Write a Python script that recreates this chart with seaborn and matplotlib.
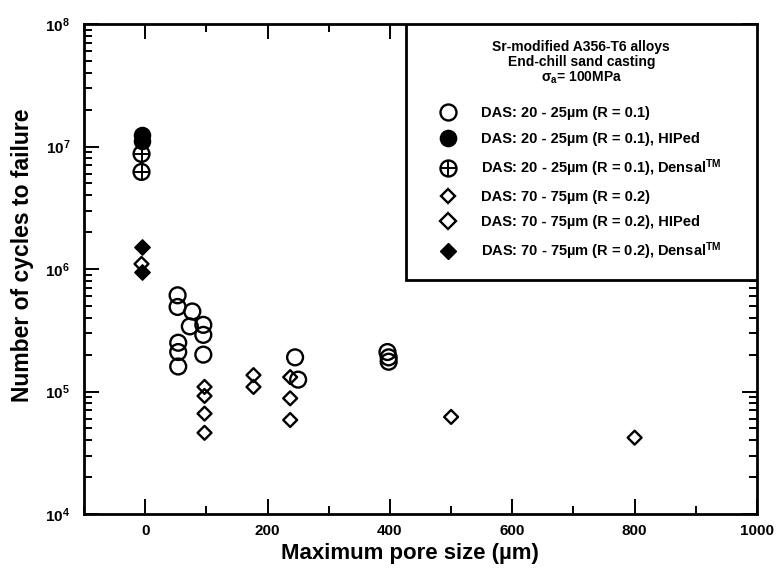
import matplotlib
matplotlib.use("Agg")
import matplotlib.pyplot as plt
import pandas as pd
import seaborn as sns
from matplotlib.lines import Line2D
from matplotlib.patches import Rectangle
from matplotlib.legend_handler import HandlerTuple
from matplotlib.ticker import LogLocator, MultipleLocator, NullFormatter

# DAS 20-25 um, R = 0.1 (as cast)
pore_fine = [53, 53, 77, 73, 95, 95, 54, 54, 95, 54, 245, 250, 396, 398, 398]
cycles_fine = [6.1e5, 4.9e5, 4.5e5, 3.4e5, 3.5e5, 2.9e5, 2.5e5, 2.1e5, 2.0e5,
               1.6e5, 1.9e5, 1.25e5, 2.1e5, 1.9e5, 1.75e5]
# DAS 20-25 um, R = 0.1, HIPed
pore_fine_hip = [-6, -6]
cycles_fine_hip = [1.25e7, 1.1e7]
# DAS 20-25 um, R = 0.1, Densal
pore_fine_densal = [-6, -6]
cycles_fine_densal = [8.7e6, 6.2e6]
# DAS 70-75 um, R = 0.2 (as cast)
pore_coarse = [97, 97, 97, 97, 177, 177, 237, 237, 237, 500, 800]
cycles_coarse = [1.09e5, 9.2e4, 6.6e4, 4.6e4, 1.36e5, 1.09e5, 1.31e5, 8.8e4,
                 5.85e4, 6.2e4, 4.2e4]
# DAS 70-75 um, R = 0.2, HIPed
pore_coarse_hip = [-6]
cycles_coarse_hip = [1.1e6]
# DAS 70-75 um, R = 0.2, Densal
pore_coarse_densal = [-6, -6]
cycles_coarse_densal = [1.5e6, 9.5e5]

series_labels = [
    "DAS: 20 - 25µm (R = 0.1)",
    "DAS: 20 - 25µm (R = 0.1), HIPed",
    "DAS: 20 - 25µm (R = 0.1), Densal$^{TM}$",
    "DAS: 70 - 75µm (R = 0.2)",
    "DAS: 70 - 75µm (R = 0.2), HIPed",
    "DAS: 70 - 75µm (R = 0.2), Densal$^{TM}$",
]
title_lines = ["Sr-modified A356-T6 alloys", "End-chill sand casting",
               "σ$_a$= 100MPa"]
x_ticks = [0, 200, 400, 600, 800, 1000]
y_ticks = [1e4, 1e5, 1e6, 1e7, 1e8]
y_ticklabels = [r"$10^{4}$", r"$10^{5}$", r"$10^{6}$", r"$10^{7}$", r"$10^{8}$"]

K = "black"
sns.set_theme(style="ticks")
plt.rcParams["font.family"] = ["Liberation Sans", "DejaVu Sans"]
plt.rcParams["font.weight"] = "bold"
plt.rcParams["text.color"] = K
plt.rcParams["axes.labelcolor"] = K
plt.rcParams["xtick.color"] = K
plt.rcParams["ytick.color"] = K
plt.rcParams["mathtext.fontset"] = "custom"
plt.rcParams["mathtext.rm"] = "Liberation Sans:bold"
plt.rcParams["mathtext.bf"] = "Liberation Sans:bold"
plt.rcParams["mathtext.it"] = "Liberation Sans:bold"
plt.rcParams["mathtext.default"] = "bf"

fig = plt.figure(figsize=(7.77, 5.70), dpi=100)
ax = fig.add_axes([84 / 777, 1 - 514 / 570, 673 / 777, 490 / 570])

def frame(x, y):
    return pd.DataFrame({"pore": x, "cycles": y})

sns.scatterplot(data=frame(pore_fine, cycles_fine), x="pore", y="cycles",
                marker="o", s=130, facecolors="none", edgecolor=K,
                linewidth=1.7, ax=ax, zorder=3)
sns.scatterplot(data=frame(pore_fine_hip, cycles_fine_hip), x="pore", y="cycles",
                marker="o", s=130, color=K, edgecolor=K, linewidth=1.2,
                ax=ax, zorder=3)
sns.scatterplot(data=frame(pore_fine_densal, cycles_fine_densal), x="pore",
                y="cycles", marker="o", s=130, facecolors="none", edgecolor=K,
                linewidth=1.7, ax=ax, zorder=3)
sns.scatterplot(data=frame(pore_fine_densal, cycles_fine_densal), x="pore",
                y="cycles", marker="+", s=130, color=K, linewidth=1.4,
                ax=ax, zorder=3)
sns.scatterplot(data=frame(pore_coarse, cycles_coarse), x="pore", y="cycles",
                marker="D", s=50, facecolors="none", edgecolor=K,
                linewidth=1.7, ax=ax, zorder=3)
sns.scatterplot(data=frame(pore_coarse_hip, cycles_coarse_hip), x="pore",
                y="cycles", marker="D", s=50, facecolors="none", edgecolor=K,
                linewidth=1.7, ax=ax, zorder=3)
sns.scatterplot(data=frame(pore_coarse_densal, cycles_coarse_densal), x="pore",
                y="cycles", marker="D", s=62, color=K, edgecolor=K,
                linewidth=1.0, ax=ax, zorder=3)

ax.set_yscale("log")
ax.set_xlim(-100, 1000)
ax.set_ylim(1e4, 1e8)
ax.set_xticks(x_ticks)
ax.set_xticklabels([str(v) for v in x_ticks])
ax.xaxis.set_minor_locator(MultipleLocator(100))
ax.set_yticks(y_ticks)
ax.set_yticklabels(y_ticklabels)
ax.yaxis.set_minor_locator(LogLocator(base=10, subs=range(2, 10)))
ax.yaxis.set_minor_formatter(NullFormatter())

for side in ax.spines.values():
    side.set_linewidth(2.0)
    side.set_color(K)
ax.tick_params(which="both", direction="in", top=True, right=True,
               color=K, width=1.4, labelcolor=K)
ax.tick_params(which="major", length=11, labelsize=11)
ax.tick_params(which="minor", length=5.5)
ax.tick_params(axis="x", which="major", pad=7)
ax.tick_params(axis="y", which="major", pad=10)
for lab in ax.get_xticklabels() + ax.get_yticklabels():
    lab.set_fontweight("bold")

ax.set_xlabel("Maximum pore size (µm)", fontsize=16, fontweight="bold", color=K)
ax.set_ylabel("Number of cycles to failure", fontsize=16.5, fontweight="bold",
              color=K)
ax.xaxis.set_label_coords(0.484, -0.059)
ax.yaxis.set_label_coords(-0.074, 0.529)

# Legend panel in the upper right corner
box_x0, box_y0 = 0.478, 0.478
ax.add_patch(Rectangle((box_x0, box_y0), 1 - box_x0, 1 - box_y0,
                       transform=ax.transAxes, facecolor="white",
                       edgecolor=K, linewidth=2.0, zorder=4))
for txt, ty in zip(title_lines, [0.953, 0.922, 0.891]):
    ax.text(0.739, ty, txt, transform=ax.transAxes, ha="center", va="center",
            fontsize=10, fontweight="bold", color=K, zorder=5)

mk = dict(ls="none", color=K, mec=K)
handles = [
    Line2D([], [], marker="o", ms=11.5, mfc="none", mew=1.7, **mk),
    Line2D([], [], marker="o", ms=11.5, mfc=K, mew=1.2, **mk),
    (Line2D([], [], marker="o", ms=11.5, mfc="none", mew=1.7, **mk),
     Line2D([], [], marker="+", ms=11.5, mew=1.4, **mk)),
    Line2D([], [], marker="D", ms=7, mfc="none", mew=1.7, **mk),
    Line2D([], [], marker="D", ms=8.5, mfc="none", mew=1.7, **mk),
    Line2D([], [], marker="D", ms=8.5, mfc=K, mew=1.0, **mk),
]
leg = ax.legend(handles, series_labels,
                handler_map={tuple: HandlerTuple(ndivide=1)},
                loc="upper left", bbox_to_anchor=(0.525, 0.832),
                frameon=False, borderpad=0, borderaxespad=0,
                handlelength=1.4, handletextpad=1.6, labelspacing=0.78,
                prop={"size": 10.5, "weight": "bold"}, labelcolor=K)
leg.set_zorder(6)

fig.savefig("out.png", dpi=100)
